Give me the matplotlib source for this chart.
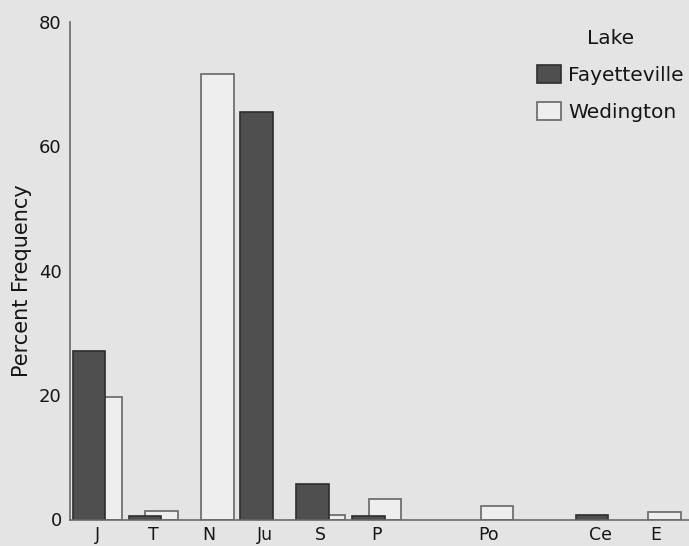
import matplotlib
matplotlib.use("Agg")
import matplotlib.pyplot as plt
import numpy as np
from matplotlib.patches import Patch

categories = ["J", "T", "N", "Ju", "S", "P", "", "Po", "", "Ce", "E"]
fayetteville = [27.1, 0.5, 0.0, 65.6, 5.7, 0.5, 0.0, 0.0, 0.0, 0.7, 0.0]
wedington = [19.7, 1.3, 71.7, 0.0, 0.8, 3.3, 0.0, 2.1, 0.0, 0.0, 1.2]
yticks = [0, 20, 40, 60, 80]

BG = "#e4e4e4"
DARK = "#4f4f4f"
DARK_EDGE = "#2e2e2e"
LIGHT = "#eeeeee"
LIGHT_EDGE = "#707070"
TEXT = "#151515"

fig = plt.figure(figsize=(6.89, 5.46), dpi=100, facecolor=BG)
ax = fig.add_axes([70/689, 26.5/546, 619/689, 497.5/546])
ax.set_facecolor(BG)

x = np.arange(len(categories))
w = 0.58
off = 0.15

fx = [xi for xi, v in zip(x, fayetteville) if v > 0]
fv = [v for v in fayetteville if v > 0]
wx = [xi for xi, v in zip(x, wedington) if v > 0]
wv = [v for v in wedington if v > 0]

ax.bar(np.array(wx) + off, wv, width=w, color=LIGHT, edgecolor=LIGHT_EDGE,
       linewidth=1.3, zorder=2)
ax.bar(np.array(fx) - off, fv, width=w, color=DARK, edgecolor=DARK_EDGE,
       linewidth=1.2, zorder=3)

ax.set_xlim(-0.49, 10.59)
ax.set_ylim(0, 80)
ax.set_xticks(x)
ax.set_xticklabels(categories, fontsize=12.5, color=TEXT)
ax.set_yticks(yticks)
ax.set_yticklabels([str(t) for t in yticks], fontsize=13, color=TEXT)
ax.tick_params(axis="both", length=0)
ax.tick_params(axis="x", pad=4.5)
ax.tick_params(axis="y", pad=6)

for s in ["top", "right"]:
    ax.spines[s].set_visible(False)
for s in ["left", "bottom"]:
    ax.spines[s].set_color("#6a6a6a")
    ax.spines[s].set_linewidth(1.2)
    ax.spines[s].set_zorder(4)

ax.set_ylabel("Percent Frequency", fontsize=15, color=TEXT)
ax.yaxis.set_label_coords(-0.062, 0.48)

handles = [Patch(facecolor=DARK, edgecolor=DARK_EDGE, linewidth=1.2),
           Patch(facecolor=LIGHT, edgecolor=LIGHT_EDGE, linewidth=1.3)]
leg = fig.legend(handles, ["Fayetteville", "Wedington"], title="Lake",
                 loc="upper left", bbox_to_anchor=(537/689, 1 - 29/546),
                 frameon=False, fontsize=14.5, title_fontsize=14.5,
                 handlelength=1.2, handleheight=1.0, handletextpad=0.35,
                 labelspacing=0.85, borderpad=0.0, borderaxespad=0.0)
for t in leg.get_texts():
    t.set_color(TEXT)
leg.get_title().set_color(TEXT)
leg._legend_box.sep = 12

fig.savefig("out.png", dpi=100, facecolor=BG)
